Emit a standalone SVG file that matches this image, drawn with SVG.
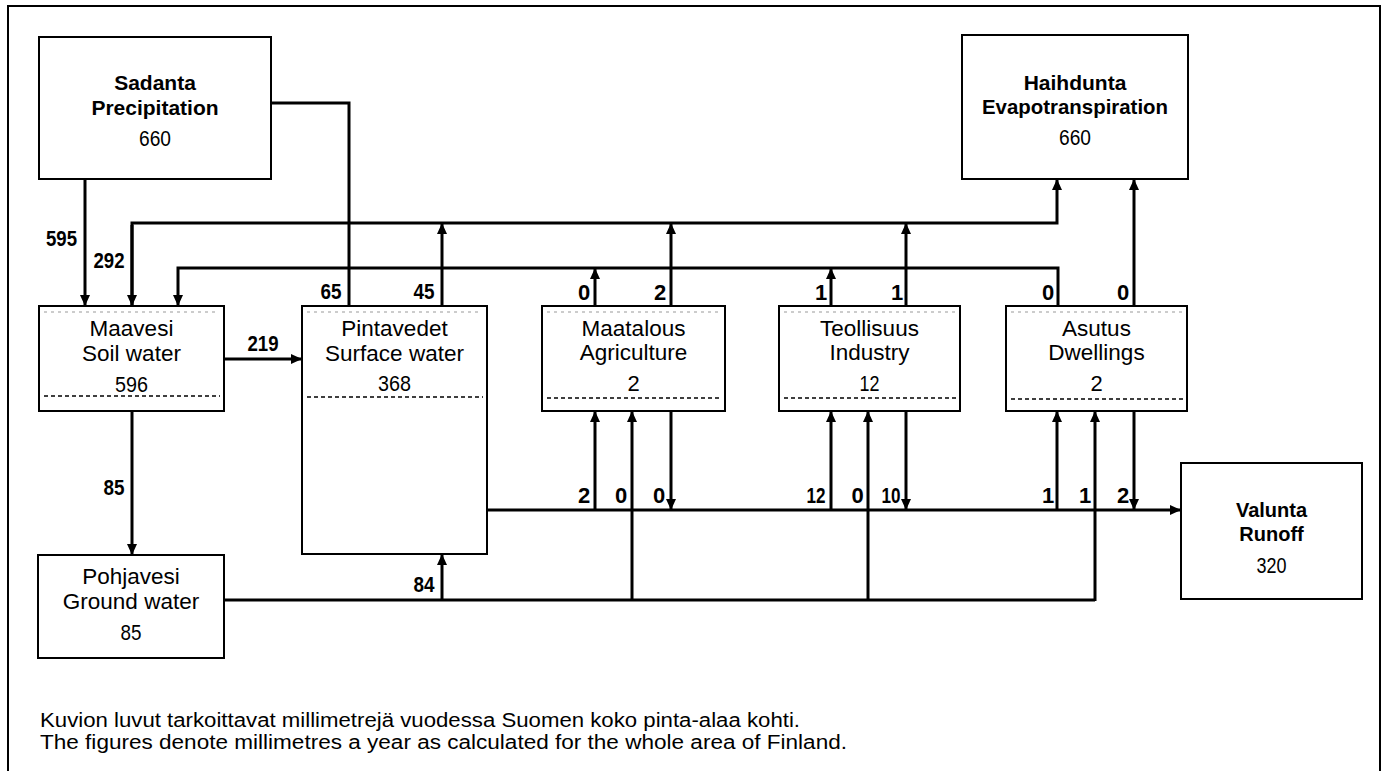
<svg xmlns="http://www.w3.org/2000/svg" width="1383" height="771" viewBox="0 0 1383 771">
<style>
  .box { fill: #fff; stroke: #000; stroke-width: 2; }
  .dash { fill: none; stroke: #000; stroke-width: 1.5; stroke-dasharray: 4 3; }
  .dashl { fill: none; stroke: #999; stroke-width: 1; stroke-dasharray: 3 4; }
  .frame { fill: none; stroke: #000; stroke-width: 2; }
  .conn path, .conn line { fill: none; stroke: #000; stroke-width: 3; }
  text { font-family: "Liberation Sans", Arial, sans-serif; fill: #000; }
  .tb { font-size: 21px; font-weight: bold; text-anchor: middle; }
  .tr { font-size: 22.5px; text-anchor: middle; }
  .num { font-size: 22px; text-anchor: middle; }
  .lab { font-size: 22px; font-weight: bold; text-anchor: middle; }
  .note { font-size: 20px; }
</style>
<defs>
  <marker id="ah" markerUnits="userSpaceOnUse" markerWidth="12" markerHeight="10" refX="11" refY="5" orient="auto">
    <path d="M0,0 L11,5 L0,10 z" fill="#000"/>
  </marker>
</defs>
<rect width="1383" height="771" fill="#fff"/>
<path class="frame" d="M8,775 V6 H1380 V775"/>

<g id="sadanta">
  <rect class="box" x="39" y="37" width="232" height="142"/>
  <text class="tb" x="155" y="90">Sadanta</text>
  <text class="tb" x="155" y="115">Precipitation</text>
  <text class="num" x="155" y="146" textLength="32" lengthAdjust="spacingAndGlyphs">660</text>
</g>

<g id="haihdunta">
  <rect class="box" x="962" y="35" width="226" height="144"/>
  <text class="tb" x="1075" y="90">Haihdunta</text>
  <text class="tb" x="1075" y="114" textLength="186" lengthAdjust="spacingAndGlyphs">Evapotranspiration</text>
  <text class="num" x="1075" y="145" textLength="32" lengthAdjust="spacingAndGlyphs">660</text>
</g>

<g id="maavesi">
  <rect class="box" x="39" y="306" width="185" height="105"/>
  <line class="dashl" x1="44" y1="312" x2="219" y2="312"/>
  <line class="dash" x1="44" y1="396" x2="220" y2="396"/>
  <text class="tr" x="131.5" y="336">Maavesi</text>
  <text class="tr" x="131.5" y="361">Soil water</text>
  <text class="num" x="131.5" y="392" textLength="33" lengthAdjust="spacingAndGlyphs">596</text>
</g>

<g id="pintavedet">
  <rect class="box" x="302" y="306" width="185" height="248"/>
  <line class="dashl" x1="307" y1="312" x2="482" y2="312"/>
  <line class="dash" x1="307" y1="397" x2="483" y2="397"/>
  <text class="tr" x="394.5" y="336">Pintavedet</text>
  <text class="tr" x="394.5" y="361">Surface water</text>
  <text class="num" x="394.5" y="391" textLength="33" lengthAdjust="spacingAndGlyphs">368</text>
</g>

<g id="maatalous">
  <rect class="box" x="542" y="306" width="183" height="105"/>
  <line class="dashl" x1="547" y1="312" x2="720" y2="312"/>
  <line class="dash" x1="547" y1="398" x2="721" y2="398"/>
  <text class="tr" x="633.5" y="336">Maatalous</text>
  <text class="tr" x="633.5" y="360">Agriculture</text>
  <text class="num" x="633.5" y="391">2</text>
</g>

<g id="teollisuus">
  <rect class="box" x="779" y="306" width="181" height="105"/>
  <line class="dashl" x1="784" y1="312" x2="955" y2="312"/>
  <line class="dash" x1="784" y1="398" x2="956" y2="398"/>
  <text class="tr" x="869.5" y="336">Teollisuus</text>
  <text class="tr" x="869.5" y="360">Industry</text>
  <text class="num" x="869.5" y="391" textLength="20" lengthAdjust="spacingAndGlyphs">12</text>
</g>

<g id="asutus">
  <rect class="box" x="1006" y="306" width="181" height="105"/>
  <line class="dashl" x1="1011" y1="312" x2="1182" y2="312"/>
  <line class="dash" x1="1011" y1="399" x2="1183" y2="399"/>
  <text class="tr" x="1096.5" y="336">Asutus</text>
  <text class="tr" x="1096.5" y="360">Dwellings</text>
  <text class="num" x="1096.5" y="391">2</text>
</g>

<g id="pohjavesi">
  <rect class="box" x="38" y="555" width="186" height="103"/>
  <text class="tr" x="131" y="584">Pohjavesi</text>
  <text class="tr" x="131" y="609">Ground water</text>
  <text class="num" x="131" y="640" textLength="21" lengthAdjust="spacingAndGlyphs">85</text>
</g>

<g id="valunta">
  <rect class="box" x="1181" y="463" width="181" height="136"/>
  <text class="tb" x="1271.5" y="517" style="font-size:20px">Valunta</text>
  <text class="tb" x="1271.5" y="541" style="font-size:20px">Runoff</text>
  <text class="num" x="1271.5" y="573" textLength="30" lengthAdjust="spacingAndGlyphs">320</text>
</g>

<g id="connectors" class="conn">
  <line x1="85" y1="179" x2="85" y2="306" marker-end="url(#ah)"/>
  <path d="M271,103 H349 V306"/>
  <path d="M132,306 V223 H1057 V179" marker-end="url(#ah)"/>
  <line x1="132" y1="225" x2="132" y2="306" marker-end="url(#ah)"/>
  <path d="M1058,306 V268 H178 V306" marker-end="url(#ah)"/>
  <line x1="442" y1="306" x2="442" y2="223" marker-end="url(#ah)"/>
  <line x1="595" y1="306" x2="595" y2="268" marker-end="url(#ah)"/>
  <line x1="671" y1="306" x2="671" y2="223" marker-end="url(#ah)"/>
  <line x1="831" y1="306" x2="831" y2="268" marker-end="url(#ah)"/>
  <line x1="906" y1="306" x2="906" y2="223" marker-end="url(#ah)"/>
  <line x1="1134" y1="306" x2="1134" y2="179" marker-end="url(#ah)"/>
  <line x1="224" y1="359" x2="302" y2="359" marker-end="url(#ah)"/>
  <line x1="132" y1="411" x2="132" y2="555" marker-end="url(#ah)"/>
  <line x1="487" y1="510" x2="1181" y2="510" marker-end="url(#ah)"/>
  <path d="M224,600 H1095"/>
  <line x1="442" y1="601" x2="442" y2="554" marker-end="url(#ah)"/>
  <line x1="632" y1="601" x2="632" y2="411" marker-end="url(#ah)"/>
  <line x1="868" y1="601" x2="868" y2="411" marker-end="url(#ah)"/>
  <line x1="1095" y1="601" x2="1095" y2="411" marker-end="url(#ah)"/>
  <line x1="595" y1="510" x2="595" y2="411" marker-end="url(#ah)"/>
  <line x1="831" y1="510" x2="831" y2="411" marker-end="url(#ah)"/>
  <line x1="1057" y1="510" x2="1057" y2="411" marker-end="url(#ah)"/>
  <line x1="671" y1="411" x2="671" y2="510" marker-end="url(#ah)"/>
  <line x1="906" y1="411" x2="906" y2="510" marker-end="url(#ah)"/>
  <line x1="1134" y1="411" x2="1134" y2="510" marker-end="url(#ah)"/>
</g>

<g id="labels">
  <text class="lab" x="61.5" y="246" textLength="31" lengthAdjust="spacingAndGlyphs">595</text>
  <text class="lab" x="109" y="268" textLength="31" lengthAdjust="spacingAndGlyphs">292</text>
  <text class="lab" x="331" y="299" textLength="21" lengthAdjust="spacingAndGlyphs">65</text>
  <text class="lab" x="424" y="299" textLength="21" lengthAdjust="spacingAndGlyphs">45</text>
  <text class="lab" x="263" y="351" textLength="31" lengthAdjust="spacingAndGlyphs">219</text>
  <text class="lab" x="114" y="495" textLength="21" lengthAdjust="spacingAndGlyphs">85</text>
  <text class="lab" x="424" y="592" textLength="21" lengthAdjust="spacingAndGlyphs">84</text>
  <text class="lab" x="584" y="300">0</text>
  <text class="lab" x="660" y="300">2</text>
  <text class="lab" x="821" y="300">1</text>
  <text class="lab" x="897" y="300">1</text>
  <text class="lab" x="1048" y="300">0</text>
  <text class="lab" x="1123" y="300">0</text>
  <text class="lab" x="584" y="503">2</text>
  <text class="lab" x="621" y="503">0</text>
  <text class="lab" x="659" y="503">0</text>
  <text class="lab" x="816" y="503" textLength="19" lengthAdjust="spacingAndGlyphs">12</text>
  <text class="lab" x="857.5" y="503">0</text>
  <text class="lab" x="891" y="503" textLength="19" lengthAdjust="spacingAndGlyphs">10</text>
  <text class="lab" x="1048" y="503">1</text>
  <text class="lab" x="1085" y="503">1</text>
  <text class="lab" x="1123" y="503">2</text>
</g>

<g id="note">
  <text class="note" x="40" y="727" textLength="760" lengthAdjust="spacingAndGlyphs">Kuvion luvut tarkoittavat millimetrejä vuodessa Suomen koko pinta-alaa kohti.</text>
  <text class="note" x="40" y="749" textLength="807" lengthAdjust="spacingAndGlyphs">The figures  denote millimetres a year as calculated for the whole area of Finland.</text>
</g>
</svg>
